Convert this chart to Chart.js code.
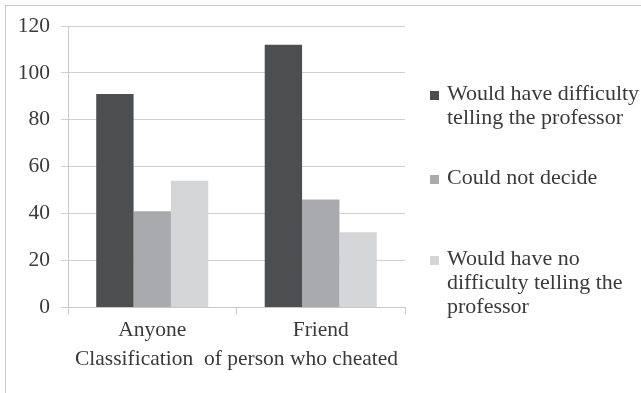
<!DOCTYPE html>
<html>
<head>
<meta charset="utf-8">
<script src="https://cdn.jsdelivr.net/npm/chart.js@4"></script>
<style>
	body { margin: 0; background: #fff; }
	#wrap { position: relative; width: 641px; height: 393px; }
	#frame { position: absolute; left: 5px; top: 5px; right: -2px; bottom: -2px; border-left: 1px solid #c8c8c8; border-top: 1px solid #c8c8c8; }
	#chart { position: absolute; left: 0; top: 0; }
	#legend { position: absolute; left: 430px; top: 0; font-family: 'Liberation Serif', serif; font-size: 22px; color: #3a3a3a; line-height: 24px; }
	#legend .item { position: absolute; left: 0; width: 215px; }
	#legend .box { position: absolute; left: 0; top: 10px; width: 9px; height: 9px; }
	#legend .txt { position: absolute; left: 17px; top: 0; white-space: nowrap; }
</style>
</head>
<body>
<div id="wrap">
	<div id="frame"></div>
	<canvas id="chart" width="641" height="393"></canvas>
	<div id="legend"></div>
</div>
<script>
const categories = ['Anyone', 'Friend'];
const seriesNames = [
	['Would have difficulty', 'telling the professor'],
	['Could not decide'],
	['Would have no', 'difficulty telling the', 'professor']
];
const difficultyValues = [91, 112];
const undecidedValues = [41, 46];
const noDifficultyValues = [54, 32];
const yTicks = [0, 20, 40, 60, 80, 100, 120];
const seriesColors = ['#4d4e50', '#a9aaad', '#d4d5d7'];

const fontSerif = "'Liberation Serif', serif";

const datasets = [difficultyValues, undecidedValues, noDifficultyValues].map((vals, i) => ({
	label: seriesNames[i].join(' '),
	data: vals,
	backgroundColor: seriesColors[i],
	borderWidth: 0,
	barPercentage: 1,
	categoryPercentage: 0.665
}));

const ctx = document.getElementById('chart').getContext('2d');
const chart = new Chart(ctx, {
	type: 'bar',
	data: { labels: categories, datasets: datasets },
	options: {
		responsive: false,
		animation: false,
		layout: { padding: { top: 26, right: 236, bottom: 21, left: 0 } },
		plugins: {
			legend: { display: false },
			tooltip: { enabled: false }
		},
		scales: {
			x: {
				offset: true,
				grid: { offset: true, drawOnChartArea: false, color: '#c8c8c8', tickLength: 7 },
				border: { color: '#c8c8c8' },
				ticks: { color: '#3a3a3a', font: { family: fontSerif, size: 21.5 }, padding: 3 },
				title: {
					display: true,
					text: 'Classification  of person who cheated',
					color: '#3a3a3a',
					font: { family: fontSerif, size: 21.5 },
					padding: { top: 0, bottom: 0 }
				}
			},
			y: {
				min: 0,
				max: 120,
				afterBuildTicks: function(scale) {
					scale.ticks = yTicks.map(v => ({ value: v }));
				},
				afterFit: function(scale) { scale.width = 68; },
				grid: { color: '#d0d0d0', tickLength: 7 },
				border: { color: '#c8c8c8' },
				ticks: { color: '#3a3a3a', font: { family: fontSerif, size: 21.5 }, padding: 11 }
			}
		}
	}
});

// legend with wrapped labels, like the original
const tops = [81, 165, 246];
const $legend = document.getElementById('legend');
seriesNames.forEach((lines, i) => {
	const item = document.createElement('div');
	item.className = 'item';
	item.style.top = tops[i] + 'px';
	item.innerHTML = '<div class="box" style="background:' + seriesColors[i] + '"></div>' +
		'<div class="txt">' + lines.join('<br>') + '</div>';
	$legend.appendChild(item);
});
</script>
</body>
</html>
